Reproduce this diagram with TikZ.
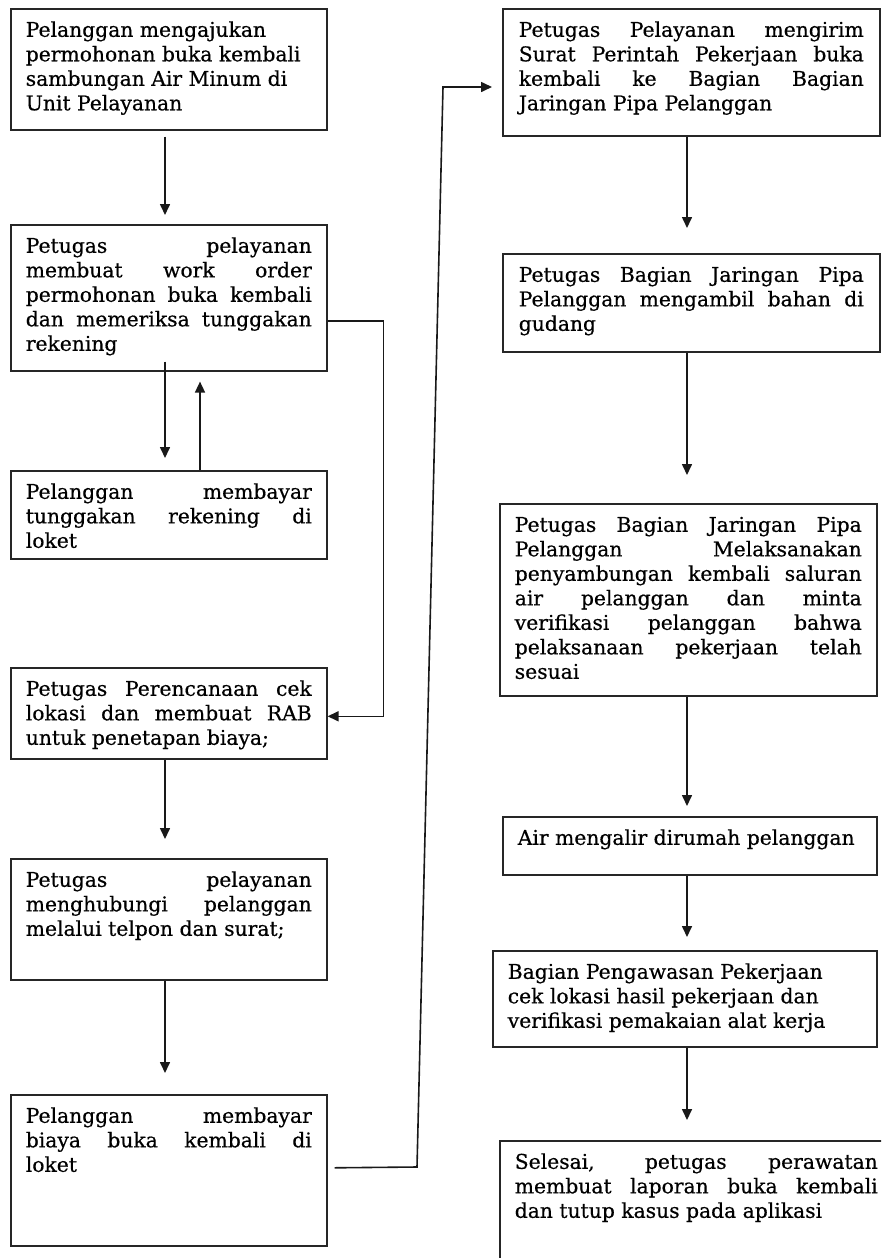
\documentclass[tikz,border=0pt]{standalone}
\usepackage{fontspec}
\setmainfont[FakeBold=0.5]{DejaVu Serif}
\usetikzlibrary{arrows.meta}

\newcommand{\flowfont}{\fontsize{20.3}{24.5}\selectfont}
% text block: [alignment]{width}{height}{text}
\newcommand{\flowtext}[4][]{\parbox[t][#3pt][t]{#2pt}{\tolerance=10000\hyphenpenalty=10000#1\rule{0pt}{28pt}#4}}

\tikzset{
    flowbox/.style={draw=black!85, line width=1.6pt, anchor=north west,
        inner xsep=15pt, inner ysep=0pt, font=\flowfont, text=black},
    flowline/.style={draw=black!90, line width=1.6pt},
    flowarrow/.style={flowline, -{Triangle[length=11pt,width=10pt]}}
}

\begin{document}
\begin{tikzpicture}[x=1pt, y=-1pt]
    \useasboundingbox (0,0) rectangle (881,1258);
    \clip (0,0) rectangle (881,1258);
    \fill[white] (0,0) rectangle (881,1258);

    \coordinate (colL) at (165,0);
    \coordinate (colU) at (200,0);
    \coordinate (colR) at (687,0);

    % left column
    \node[flowbox] (ajuan) at (10,8) {\flowtext[\raggedright]{286}{121}{Pelanggan mengajukan\\ permohonan buka kembali\\ sambungan Air Minum di\\ Unit Pelayanan}};
    \node[flowbox] (workorder) at (10,224) {\flowtext{286}{146}{Petugas pelayanan\linebreak membuat work order\linebreak permohonan buka kembali\linebreak dan memeriksa tunggakan\linebreak rekening}};
    \node[flowbox] (tunggakan) at (10,470) {\flowtext{286}{88}{Pelanggan membayar\linebreak tunggakan rekening di\linebreak loket}};
    \node[flowbox] (rab) at (10,667) {\flowtext{286}{91}{Petugas Perencanaan cek\linebreak lokasi dan membuat RAB\linebreak untuk penetapan biaya;}};
    \node[flowbox] (hubungi) at (10,858) {\flowtext{286}{121}{Petugas pelayanan\linebreak menghubungi pelanggan\linebreak melalui telpon dan surat;}};
    \node[flowbox] (bayar) at (10,1094) {\flowtext{286}{151}{Pelanggan membayar\linebreak biaya buka kembali di\linebreak loket}};

    % right column
    \node[flowbox, inner xsep=16pt] (spk) at (502,8) {\flowtext{345}{127}{Petugas Pelayanan mengirim\linebreak Surat Perintah Pekerjaan buka\linebreak kembali ke Bagian Bagian\linebreak Jaringan Pipa Pelanggan}};
    \node[flowbox, inner xsep=16pt] (bahan) at (502,253) {\flowtext{345}{98}{Petugas Bagian Jaringan Pipa\linebreak Pelanggan mengambil bahan di\linebreak gudang}};
    \node[flowbox] (sambung) at (499,503) {\flowtext{347}{192}{Petugas Bagian Jaringan Pipa\linebreak Pelanggan Melaksanakan\linebreak penyambungan kembali saluran\linebreak air pelanggan dan minta\linebreak verifikasi pelanggan bahwa\linebreak pelaksanaan pekerjaan telah\linebreak sesuai}};
    \node[flowbox] (mengalir) at (502,816) {\flowtext{344}{58}{Air mengalir dirumah pelanggan}};
    \node[flowbox] (awasi) at (492,950) {\flowtext[\raggedright]{354}{96}{Bagian Pengawasan Pekerjaan\\ cek lokasi hasil pekerjaan dan\\ verifikasi pemakaian alat kerja}};
    \node[flowbox] (selesai) at (499,1140) {\flowtext{363}{140}{Selesai, petugas perawatan\linebreak membuat laporan buka kembali\linebreak dan tutup kasus pada aplikasi}};

    % connectors
    \draw[flowarrow, shorten <=6pt, shorten >=9pt] (ajuan.south -| colL) -- (workorder.north -| colL);
    \draw[flowarrow, shorten <=-10pt, shorten >=12pt] (workorder.south -| colL) -- (tunggakan.north -| colL);
    \draw[flowarrow, shorten >=10pt] (tunggakan.north -| colU) -- (workorder.south -| colU);
    \draw[flowarrow] ([yshift=-23pt]workorder.east) -- ++(56,0) |- ([yshift=-3pt]rab.east);
    \draw[flowarrow, shorten >=19pt] (rab.south -| colL) -- (hubungi.north -| colL);
    \draw[flowarrow, shorten >=21pt] (hubungi.south -| colL) -- (bayar.north -| colL);

    \coordinate (bendlow) at (417,1167);
    \coordinate (bendtop) at (443,87);
    \draw[flowarrow, shorten >=10pt] ([xshift=7pt, yshift=2.5pt]bayar.east) -- (bendlow) -- (bendtop) -- (bendtop -| spk.west);

    \draw[flowarrow, shorten >=25pt] (spk.south -| colR) -- (bahan.north -| colR);
    \draw[flowarrow, shorten >=28pt] (bahan.south -| colR) -- (sambung.north -| colR);
    \draw[flowarrow, shorten >=10pt] (sambung.south -| colR) -- (mengalir.north -| colR);
    \draw[flowarrow, shorten >=13pt] (mengalir.south -| colR) -- (awasi.north -| colR);
    \draw[flowarrow, shorten >=20pt] (awasi.south -| colR) -- (selesai.north -| colR);
\end{tikzpicture}
\end{document}
